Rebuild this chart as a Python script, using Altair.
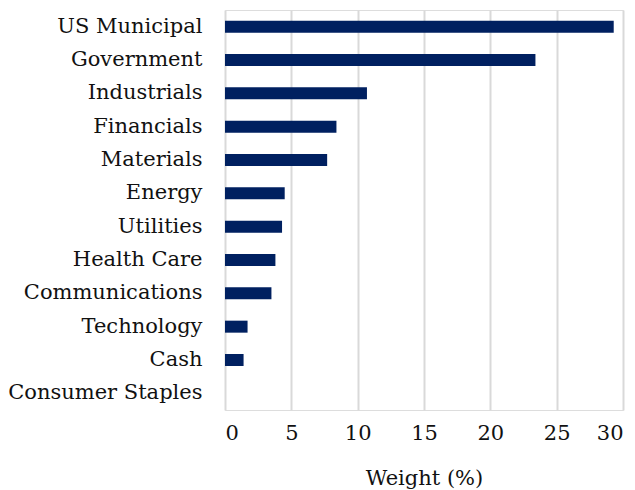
import altair as alt
import pandas as pd

categories = ["US Municipal", "Government", "Industrials", "Financials", "Materials",
              "Energy", "Utilities", "Health Care", "Communications", "Technology",
              "Cash", "Consumer Staples"]
weights = [29.3, 23.4, 10.7, 8.4, 7.7, 4.5, 4.3, 3.8, 3.5, 1.7, 1.4, 0.0]

df = pd.DataFrame({"Sector": categories, "Weight": weights})

FONT = "DejaVu Serif"
FS = 21

chart = alt.Chart(df).mark_bar(color="#002060").encode(
    x=alt.X("Weight:Q", title="Weight (%)",
            scale=alt.Scale(domain=[0, 30], nice=False),
            axis=alt.Axis(values=[0, 5, 10, 15, 20, 25, 30], grid=True, ticks=False,
                          domain=False, labelPadding=12, titlePadding=24,
                          labelFontSize=FS, titleFontSize=FS, labelFont=FONT,
                          titleFont=FONT, titleFontWeight="normal",
                          labelColor="#111111", titleColor="#111111",
                          gridColor="#d9d9d9", gridWidth=2)),
    y=alt.Y("Sector:N", sort=categories, title=None,
            scale=alt.Scale(paddingInner=0.64, paddingOuter=0.32),
            axis=alt.Axis(ticks=False, domain=False, labelPadding=23,
                          labelFontSize=FS, labelFont=FONT, labelColor="#111111",
                          labelLimit=300)),
).properties(
    width=398, height=400,
    autosize=alt.AutoSizeParams(type="none"),
    padding={"left": 225, "top": 10, "right": 12, "bottom": 80},
).configure_view(stroke=None).configure(background="white")

chart.save("out.html", embed_options={"renderer": "svg", "actions": False})
